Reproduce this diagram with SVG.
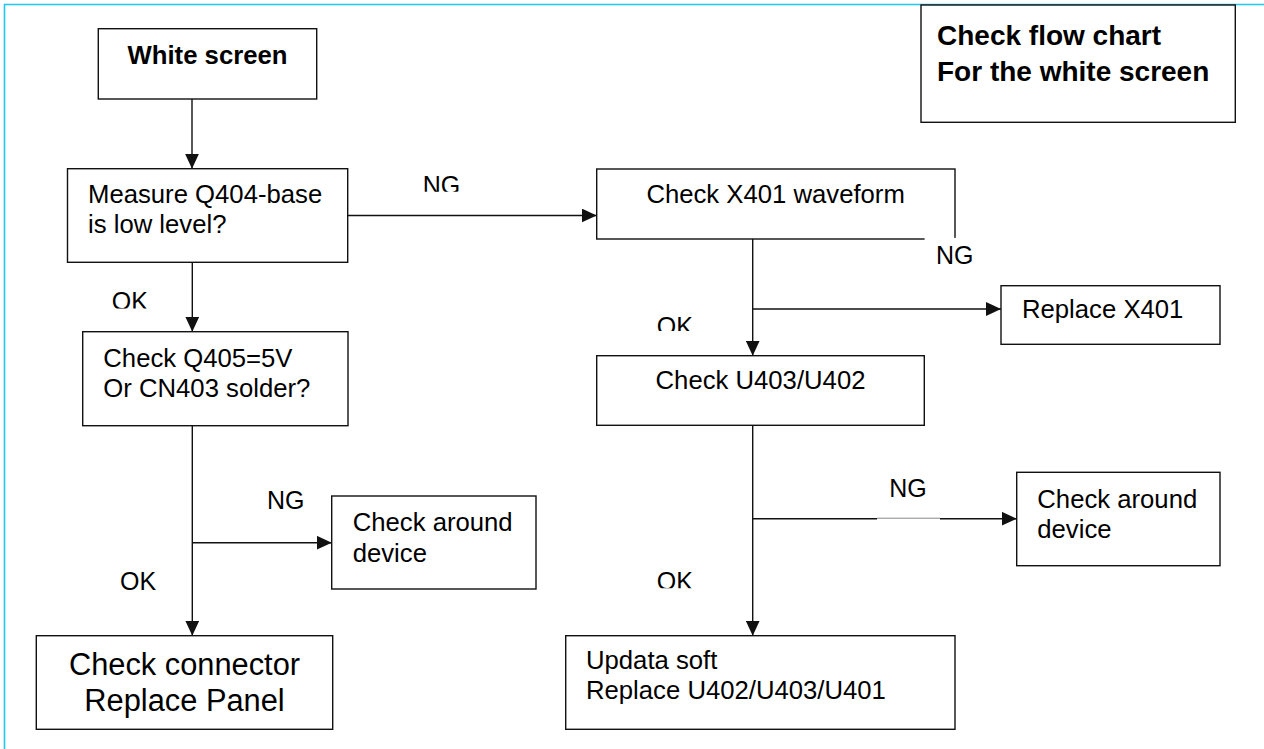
<svg xmlns="http://www.w3.org/2000/svg" width="1264" height="749" viewBox="0 0 1264 749">
  <style>
    .box { fill: #ffffff; stroke: #111111; stroke-width: 1.4; }
    .con { fill: none; stroke: #111111; stroke-width: 1.4; }
    .t { font-family: "Liberation Sans", Arial, sans-serif; font-size: 25.7px; fill: #000000; }
    .lbl { font-family: "Liberation Sans", Arial, sans-serif; font-size: 25px; fill: #000000; }
    .b { font-weight: bold; }
    .big { font-size: 30.8px; }
    .ttl { font-size: 28px; }
    .frame { stroke: #1ec8f0; stroke-width: 1.6; fill: none; }
  </style>
  <defs>
    <marker id="arr" markerUnits="userSpaceOnUse" markerWidth="15" markerHeight="14" refX="15" refY="7" orient="auto">
      <path d="M0,0 L15,7 L0,14 Z" fill="#111111"/>
    </marker>
    <clipPath id="cNG1"><rect x="400" y="160" width="90" height="31.7"/></clipPath>
    <clipPath id="cOK1"><rect x="100" y="280" width="70" height="28.5"/></clipPath>
    <clipPath id="cOK2"><rect x="640" y="300" width="70" height="31"/></clipPath>
    <clipPath id="cOK4"><rect x="640" y="560" width="70" height="28.3"/></clipPath>
  </defs>

  <rect x="0" y="0" width="1264" height="749" fill="#ffffff"/>
  <path class="frame" d="M4.5,749 V4.5 H1264"/>

  <g id="connectors">
    <path class="con" d="M192,99 V168.7" marker-end="url(#arr)"/>
    <path class="con" d="M347.7,215.5 H596.7" marker-end="url(#arr)"/>
    <path class="con" d="M192.3,262.3 V331.7" marker-end="url(#arr)"/>
    <path class="con" d="M192.3,425.7 V635.7" marker-end="url(#arr)"/>
    <path class="con" d="M192.3,542.7 H331.7" marker-end="url(#arr)"/>
    <path class="con" d="M752.7,239 V355.7" marker-end="url(#arr)"/>
    <path class="con" d="M752.7,309 H1001" marker-end="url(#arr)"/>
    <path class="con" d="M752.7,425.3 V635.7" marker-end="url(#arr)"/>
    <path class="con" d="M752.7,518.7 H877"/>
    <path d="M877,518.2 H940" stroke="#111111" stroke-width="0.5" fill="none"/>
    <path class="con" d="M940,518.7 H1016.7" marker-end="url(#arr)"/>
  </g>

  <g id="title">
    <rect class="box" x="921" y="5" width="314.3" height="117.3"/>
    <text class="t b ttl" x="937" y="45">Check flow chart</text>
    <text class="t b ttl" x="937" y="81">For the white screen</text>
  </g>

  <g id="white-screen">
    <rect class="box" x="98.3" y="28.7" width="218.4" height="70.3"/>
    <text class="t b" x="207.5" y="64" text-anchor="middle">White screen</text>
  </g>

  <g id="measure-q404">
    <rect class="box" x="67.5" y="168.7" width="280.2" height="93.6"/>
    <text class="t" x="88" y="203">Measure Q404-base</text>
    <text class="t" x="88" y="232.5">is low level?</text>
  </g>

  <g id="check-q405">
    <rect class="box" x="82.7" y="331.7" width="265.3" height="94"/>
    <text class="t" x="103.3" y="366.7">Check Q405=5V</text>
    <text class="t" x="103.3" y="397.3">Or CN403 solder?</text>
  </g>

  <g id="check-around-left">
    <rect class="box" x="331.7" y="496" width="204.3" height="93"/>
    <text class="t" x="352.7" y="531">Check around</text>
    <text class="t" x="352.7" y="562">device</text>
  </g>

  <g id="check-connector">
    <rect class="box" x="36.3" y="635.7" width="296.4" height="93.6"/>
    <text class="t big" x="184.5" y="675" text-anchor="middle">Check connector</text>
    <text class="t big" x="184.5" y="711" text-anchor="middle">Replace Panel</text>
  </g>

  <g id="check-x401">
    <rect class="box" x="596.7" y="169" width="358.3" height="70"/>
    <text class="t" x="775.6" y="202.7" text-anchor="middle">Check X401 waveform</text>
  </g>

  <g id="replace-x401">
    <rect class="box" x="1001" y="285.7" width="219" height="58.6"/>
    <text class="t" x="1022" y="318">Replace X401</text>
  </g>

  <g id="check-u403">
    <rect class="box" x="596.7" y="355.7" width="327.6" height="69.6"/>
    <text class="t" x="760.5" y="389.3" text-anchor="middle">Check U403/U402</text>
  </g>

  <g id="check-around-right">
    <rect class="box" x="1016.7" y="472.3" width="203.3" height="93.4"/>
    <text class="t" x="1037.3" y="508.3">Check around</text>
    <text class="t" x="1037.3" y="538.3">device</text>
  </g>

  <g id="updata-soft">
    <rect class="box" x="565.7" y="635.7" width="389.3" height="93.6"/>
    <text class="t" x="586" y="669.3">Updata soft</text>
    <text class="t" x="586" y="699.3">Replace U402/U403/U401</text>
  </g>

  <g id="labels">
    <text class="lbl" x="422.7" y="194" clip-path="url(#cNG1)">NG</text>
    <text class="lbl" x="111.7" y="309.5" clip-path="url(#cOK1)">OK</text>
    <rect x="924.6" y="237.9" width="50" height="30" fill="#ffffff"/>
    <text class="lbl" x="936" y="264">NG</text>
    <text class="lbl" x="656.7" y="334.7" clip-path="url(#cOK2)">OK</text>
    <text class="lbl" x="267" y="509">NG</text>
    <text class="lbl" x="120" y="590">OK</text>
    <text class="lbl" x="889.3" y="497.3">NG</text>
    <text class="lbl" x="656.7" y="589.7" clip-path="url(#cOK4)">OK</text>
  </g>
</svg>
